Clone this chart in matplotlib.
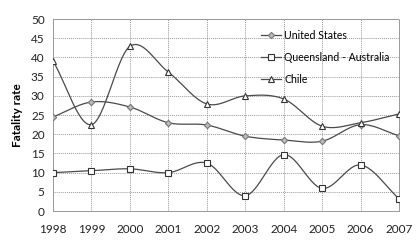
import numpy as np
import matplotlib
matplotlib.use("Agg")
import matplotlib.pyplot as plt
from matplotlib.lines import Line2D

plt.rcParams['font.family'] = ['Lato', 'DejaVu Sans']

years = [1998, 1999, 2000, 2001, 2002, 2003, 2004, 2005, 2006, 2007]
us = [24.5, 28.4, 27.1, 23.0, 22.4, 19.5, 18.5, 18.2, 22.5, 19.6]
qld = [10.0, 10.5, 11.0, 10.0, 12.5, 4.0, 14.7, 5.9, 12.0, 3.2]
chile = [39.1, 22.5, 42.9, 36.2, 27.9, 30.0, 29.2, 22.1, 23.0, 25.3]


def smooth(x, y, n=30):
    """Catmull-Rom smoothing, like the smoothed line option in spreadsheets."""
    x = np.asarray(x, float)
    y = np.asarray(y, float)
    px = np.concatenate([[2 * x[0] - x[1]], x, [2 * x[-1] - x[-2]]])
    py = np.concatenate([[2 * y[0] - y[1]], y, [2 * y[-1] - y[-2]]])
    xs, ys = [], []
    t = np.linspace(0, 1, n)
    for i in range(1, len(px) - 2):
        for P, out in ((px, xs), (py, ys)):
            p0, p1, p2, p3 = P[i - 1], P[i], P[i + 1], P[i + 2]
            out.extend(0.5 * ((2 * p1) + (-p0 + p2) * t
                              + (2 * p0 - 5 * p1 + 4 * p2 - p3) * t ** 2
                              + (-p0 + 3 * p1 - 3 * p2 + p3) * t ** 3))
    return xs, ys


fig = plt.figure(figsize=(4.17, 2.48), dpi=100)
ax = fig.add_axes([0.127, 0.149, 0.83, 0.774])

lc = "#4a4a4a"
series = [
    ("United States", us, dict(marker="D", ms=3.2, mfc="#bbbbbb", mec="#777777")),
    ("Queensland - Australia", qld, dict(marker="s", ms=4.5, mfc="white", mec="#333333")),
    ("Chile", chile, dict(marker="^", ms=5, mfc="white", mec="#333333")),
]
handles = []
for name, vals, mk in series:
    sx, sy = smooth(years, vals)
    ax.plot(sx, sy, "-", color=lc, lw=0.9, zorder=2)
    ax.plot(years, vals, ls="none", mew=0.8, zorder=3, **mk)
    handles.append(Line2D([0], [0], color=lc, lw=0.9, mew=0.8, label=name, **mk))

ax.set_xlim(1998, 2007)
ax.set_ylim(0, 50)
ax.set_xticks(years)
ax.set_yticks(range(0, 51, 5))
ax.grid(True, color="#999999", ls=(0, (1, 1)), lw=0.7)
for s in ax.spines.values():
    s.set_color("#999999")
    s.set_linestyle((0, (1, 1)))
    s.set_linewidth(0.7)
ax.tick_params(length=0, labelsize=8.5, colors="#222222")
ax.tick_params(axis="x", pad=9)
ax.tick_params(axis="y", pad=6)
ax.set_ylabel("Fatality rate", fontsize=8.5, fontweight="bold", labelpad=6)

ax.legend(handles=handles, loc="upper right", bbox_to_anchor=(1.0, 0.995),
          frameon=False, fontsize=7.6, handlelength=1.9, labelspacing=1.05,
          handletextpad=0.3)

fig.savefig("out.png", dpi=100)
